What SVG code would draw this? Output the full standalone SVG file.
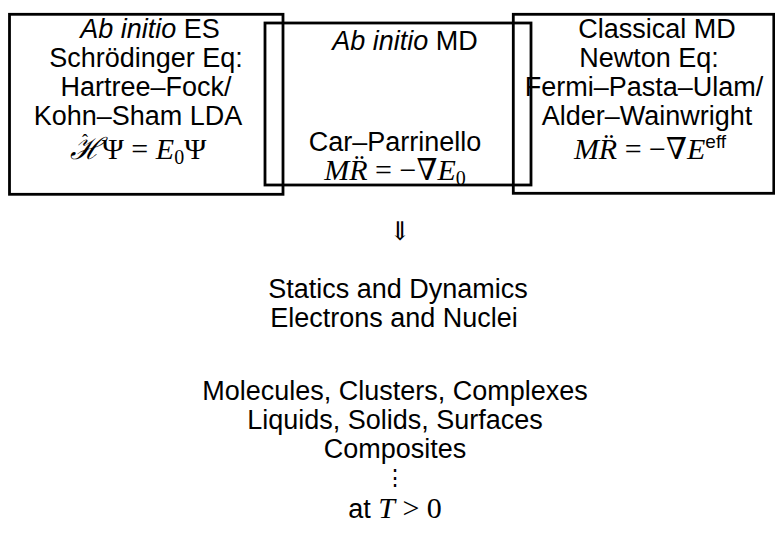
<svg xmlns="http://www.w3.org/2000/svg" width="775" height="548" viewBox="0 0 775 548">
<style>
.box{fill:none;stroke:#000;stroke-width:2.8}
text{font-family:"Liberation Sans","DejaVu Sans",sans-serif;font-size:27px;fill:#000;text-anchor:middle}
.eq{font-size:30px}
.m{font-family:"Liberation Serif","DejaVu Serif",serif;font-style:italic}
.r{font-family:"Liberation Serif","DejaVu Serif",serif;font-style:normal}
.sub{font-size:20px}
.sup{font-family:"Liberation Sans","DejaVu Sans",sans-serif;font-size:19px}
.it{font-style:italic}
</style>
<rect width="775" height="548" fill="#fff"/>
<g id="box-es">
<rect class="box" x="9.5" y="14.3" width="273.5" height="180"/>
<text x="150" y="38"><tspan class="it">Ab initio</tspan> ES</text>
<text x="146" y="67">Schrödinger Eq:</text>
<text x="146" y="96">Hartree–Fock/</text>
<text x="138" y="125">Kohn–Sham LDA</text>
<text x="138" y="159" class="eq"><tspan class="m">ℋ</tspan><tspan class="r">Ψ = </tspan><tspan class="m">E</tspan><tspan class="r sub" dy="5">0</tspan><tspan class="r" dy="-5">Ψ</tspan></text>
<text x="85" y="147" class="r" style="font-size:18px">ˆ</text>
</g>
<g id="box-md">
<rect class="box" x="265" y="23" width="266" height="162"/>
<text x="405" y="50"><tspan class="it">Ab initio</tspan> MD</text>
<text x="395" y="151">Car–Parrinello</text>
<text x="395" y="180" class="eq"><tspan class="m">MR̈</tspan><tspan class="r"> = −∇</tspan><tspan class="m">E</tspan><tspan class="r sub" dy="5">0</tspan></text>
</g>
<g id="box-classical">
<rect class="box" x="513.3" y="14.3" width="260.5" height="179"/>
<text x="657" y="38">Classical MD</text>
<text x="649" y="67">Newton Eq:</text>
<text x="644" y="96">Fermi–Pasta–Ulam/</text>
<text x="647" y="125">Alder–Wainwright</text>
<text x="650" y="159" class="eq"><tspan class="m">MR̈</tspan><tspan class="r"> = −∇</tspan><tspan class="m">E</tspan><tspan class="sup" dy="-11">eff</tspan></text>
</g>
<g id="connectors">
<text x="400" y="240" class="r" style="font-size:26px">⇓</text>
</g>
<g id="results">
<text x="398" y="298">Statics and Dynamics</text>
<text x="394" y="327">Electrons and Nuclei</text>
<text x="395" y="400">Molecules, Clusters, Complexes</text>
<text x="395" y="429">Liquids, Solids, Surfaces</text>
<text x="395" y="458">Composites</text>
<text x="395" y="485" class="r" style="font-size:22px">⋮</text>
<text x="395" y="518">at <tspan class="m" style="font-size:30px">T</tspan><tspan class="r" style="font-size:30px"> &gt; 0</tspan></text>
</g>
</svg>
